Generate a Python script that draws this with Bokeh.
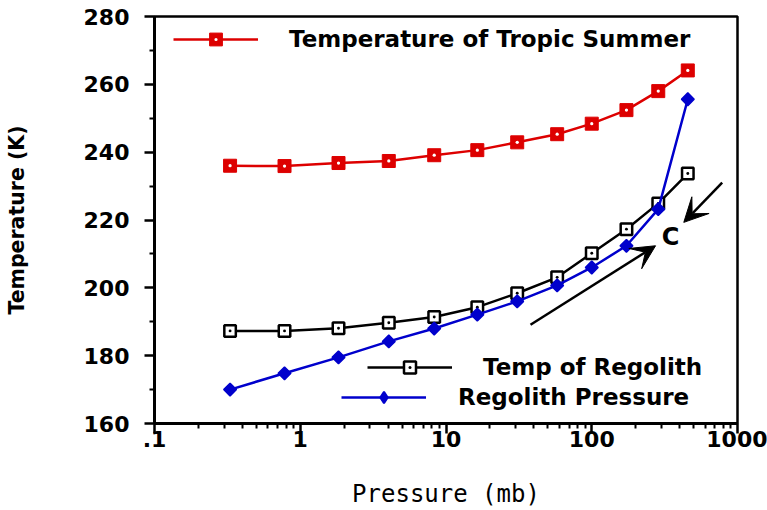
from bokeh.plotting import figure
from bokeh.models import FixedTicker, Legend, LegendItem, Arrow, VeeHead, Label
from bokeh.embed import file_html
from bokeh.resources import INLINE

# ---- data ----
pressure = [0.33, 0.78, 1.83, 4.05, 8.3, 16.4, 30.8, 57.9, 100, 173, 286, 456]
temp_tropic_summer = [236.0, 235.9, 236.8, 237.4, 239.1, 240.6, 242.9, 245.3, 248.4, 252.4, 258.0, 264.1]
temp_regolith = [187.3, 187.3, 188.1, 189.7, 191.4, 194.3, 198.4, 203.1, 210.2, 217.3, 224.9, 233.7]
regolith_pressure = [170.0, 174.8, 179.5, 184.2, 188.0, 192.1, 196.0, 200.7, 206.0, 212.4, 223.2, 255.6]

series_names = ["Temperature of Tropic Summer", "Temp of Regolith", "Regolith Pressure"]

x_ticks = [0.1, 1, 10, 100, 1000]
x_tick_labels = [".1", "1", "10", "100", "1000"]
y_ticks = [160, 180, 200, 220, 240, 260, 280]
y_minor_ticks = [170, 190, 210, 230, 250, 270]

# annotation: two arrows and the letter C
arrow_x_start = [38, 785]
arrow_y_start = [189.1, 231.0]
arrow_x_end = [274, 428]
arrow_y_end = [212.4, 219.3]
note_text = "C"
note_x, note_y = 347, 215

RED = "#dd0000"
BLUE = "#0000cc"
FONT = "DejaVu Sans"

p = figure(width=767, height=510, x_axis_type="log", x_range=(0.1, 1000), y_range=(160, 280),
           output_backend="svg", toolbar_location=None,
           min_border_left=154, min_border_right=30, min_border_top=16, min_border_bottom=86)
p.grid.visible = False
p.outline_line_color = "black"
p.outline_line_width = 2.5
p.outline_line_alpha = 1.0
p.background_fill_color = "white"
p.border_fill_color = "white"

x_minor = [d * k for d in x_ticks[:-1] for k in range(2, 10)]
p.xaxis.ticker = FixedTicker(ticks=x_ticks, minor_ticks=x_minor)
p.xaxis.major_label_overrides = {t: l for t, l in zip(x_ticks, x_tick_labels)}
p.yaxis.ticker = FixedTicker(ticks=y_ticks, minor_ticks=y_minor_ticks)

for ax in (p.xaxis[0], p.yaxis[0]):
    ax.axis_line_width = 3
    ax.axis_line_color = "black"
    ax.major_tick_line_color = "black"
    ax.minor_tick_line_color = "black"
    ax.major_tick_line_width = 2.5
    ax.minor_tick_line_width = 2
    ax.major_tick_in = 0
    ax.major_tick_out = 10
    ax.minor_tick_in = 0
    ax.minor_tick_out = 5
    ax.major_label_text_font = FONT
    ax.major_label_text_font_style = "bold"
    ax.major_label_text_font_size = "22px"
    ax.major_label_text_color = "black"
    ax.axis_label_text_color = "black"
    ax.axis_label_text_font = FONT

p.xaxis.major_label_standoff = -3
p.xaxis.axis_label = "Pressure (mb)"
p.xaxis.axis_label_text_font = "DejaVu Sans Mono"
p.xaxis.axis_label_text_font_style = "normal"
p.xaxis.axis_label_text_font_size = "24px"
p.xaxis.axis_label_standoff = 30

p.yaxis.major_label_standoff = 15
p.yaxis.axis_label = "Temperature (K)"
p.yaxis.axis_label_text_font_style = "bold"
p.yaxis.axis_label_text_font_size = "20.5px"
p.yaxis.axis_label_standoff = 52

# red series
r_line = p.line(pressure, temp_tropic_summer, line_color=RED, line_width=2.5)
r_sq = p.scatter(pressure, temp_tropic_summer, marker="square", size=13, fill_color=RED, line_color=RED, line_width=1)
r_dot = p.scatter(pressure, temp_tropic_summer, marker="dot", size=13, line_color="white")

# black series
k_line = p.line(pressure, temp_regolith, line_color="black", line_width=2.5)
k_sq = p.scatter(pressure, temp_regolith, marker="square_dot", size=11.5, fill_color="white", line_color="black", line_width=2.5)

# blue series
b_line = p.line(pressure, regolith_pressure, line_color=BLUE, line_width=2.5)
b_dia = p.scatter(pressure, regolith_pressure, marker="square", angle=0.785398, size=9,
                  fill_color=BLUE, line_color=BLUE, line_width=1.5)
# legend swatch for the diamond (legend swatches do not rotate markers); it draws nothing in the plot
b_key = p.scatter(x=[pressure[0]], y=[float("nan")], marker="diamond",
                  fill_color=BLUE, line_color=BLUE, line_width=2)


def make_legend(label, renderers, loc, standoff, gh):
    leg = Legend(items=[LegendItem(label=label, renderers=renderers)], location=loc,
                 glyph_width=85, glyph_height=gh, label_height=20, label_standoff=standoff,
                 padding=0, margin=0, spacing=0,
                 background_fill_alpha=0, border_line_alpha=0,
                 label_text_font=FONT, label_text_font_style="bold",
                 label_text_font_size="23px", label_text_color="black")
    p.add_layout(leg)
    return leg


make_legend(series_names[0], [r_line, r_sq, r_dot], (19, 368), 31, 32)
make_legend(series_names[1], [k_line, k_sq], (213, 41), 31, 30)
make_legend(series_names[2], [b_line, b_key], (187, 12), 32, 28)

for xs, ys, xe, ye in zip(arrow_x_start, arrow_y_start, arrow_x_end, arrow_y_end):
    p.add_layout(Arrow(x_start=xs, y_start=ys, x_end=xe, y_end=ye, line_width=2.5, line_color="black",
                       end=VeeHead(size=24, fill_color="black", line_color="black", line_width=1)))

p.add_layout(Label(x=note_x, y=note_y, text=note_text, text_font=FONT, text_font_style="bold",
                   text_font_size="24px", text_align="center", text_baseline="middle", text_color="black"))

open("out.html", "w").write(file_html(p, INLINE))
